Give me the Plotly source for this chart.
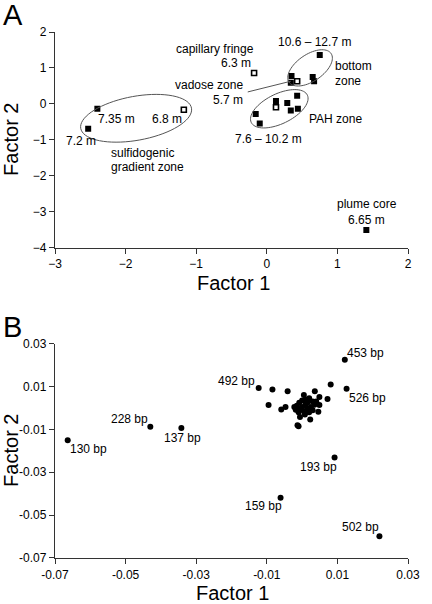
import math
import plotly.graph_objects as go

# ---------------- Panel A data ----------------
a_filled_x = [-2.53, -2.40, 0.75, 0.35, 0.34, 0.65, 0.67, -0.157, -0.10, 0.13, 0.29, 0.34, 0.43, 0.44, 1.41]
a_filled_y = [-0.69, -0.13, 1.36, 0.78, 0.59, 0.75, 0.63, -0.28, -0.54, 0.08, 0.03, -0.18, 0.23, -0.13, -3.50]
a_open_x = [-1.175, -0.18, 0.43, 0.13]
a_open_y = [-0.16, 0.86, 0.63, -0.09]

# ---------------- Panel B data ----------------
b_label_names = ["130 bp", "228 bp", "137 bp", "492 bp", "453 bp", "526 bp", "193 bp", "159 bp", "502 bp"]
b_label_x = [-0.0664, -0.0430, -0.0342, -0.0123, 0.0121, 0.0126, 0.0092, -0.0061, 0.0219]
b_label_y = [-0.0150, -0.0088, -0.0093, 0.0093, 0.0225, 0.0090, -0.0231, -0.0419, -0.0598]
b_other_x = [-0.0084, -0.0041, 0.0081, 0.0036, 0.0072, 0.0049, -0.0095, -0.0059, -0.0047, -0.0022,
             0.0005, 0.0049, 0.0046, 0.0023, -0.0006, -0.0010, -0.0013,
             -0.0015, -0.0008, 0.0000, 0.0010, 0.0020, 0.0030, 0.0035, 0.0025, 0.0015, 0.0005,
             -0.0005, 0.0010, 0.0020, 0.0030, -0.0010, 0.0000, 0.0015, 0.0040, 0.0008, -0.0018]
b_other_y = [0.0086, 0.0078, 0.0110, 0.0078, 0.0042, 0.0051, 0.0014, -0.0007, 0.0005, 0.0005,
             0.0061, 0.0014, -0.0017, -0.0054, -0.0042, -0.0085, -0.0080,
             0.0010, 0.0025, 0.0035, 0.0040, 0.0045, 0.0030, 0.0015, 0.0005, -0.0005, -0.0015,
             -0.0005, 0.0015, -0.0020, -0.0010, -0.0020, 0.0005, 0.0025, 0.0030, -0.0030, -0.0008]

FONT = "Liberation Sans, Arial, sans-serif"
W, H = 432, 604
ML, MR, MT, MB = 55, 13, 32, 46
PW, PH = W - ML - MR, H - MT - MB
A_DOM = [0.5896, 1.0]
B_DOM = [0.0, 0.4074]
A_XR, A_YR = [-3, 2], [-4, 2]
B_XR, B_YR = [-0.07, 0.03], [-0.07, 0.03]

sxA = PW / (A_XR[1] - A_XR[0])
syA = PH * (A_DOM[1] - A_DOM[0]) / (A_YR[1] - A_YR[0])


def ellipse_path(cx, cy, a_px, b_px, ang_deg, sx, sy, n=72):
    th = math.radians(ang_deg)
    pts = []
    for i in range(n):
        t = 2 * math.pi * i / n
        dx = a_px * math.cos(t) * math.cos(th) - b_px * math.sin(t) * math.sin(th)
        dy = a_px * math.cos(t) * math.sin(th) + b_px * math.sin(t) * math.cos(th)
        pts.append((cx + dx / sx, cy + dy / sy))
    return "M " + " L ".join(f"{x:.5f},{y:.5f}" for x, y in pts) + " Z"


fig = go.Figure()

fig.add_trace(go.Scatter(x=a_filled_x, y=a_filled_y, mode="markers", xaxis="x", yaxis="y",
                         marker=dict(symbol="square", size=6, color="black",
                                     line=dict(width=0)), showlegend=False))
fig.add_trace(go.Scatter(x=a_open_x, y=a_open_y, mode="markers", xaxis="x", yaxis="y",
                         marker=dict(symbol="square", size=5, color="white",
                                     line=dict(width=1.6, color="black")), showlegend=False))
fig.add_trace(go.Scatter(x=b_other_x + b_label_x, y=b_other_y + b_label_y, mode="markers",
                         xaxis="x2", yaxis="y2",
                         marker=dict(symbol="circle", size=6, color="black", line=dict(width=0)),
                         showlegend=False))

shapes = []
for (cx, cy, a, b, ang) in [(-1.851, -0.398, 58, 22, 10), (0.613, 1.003, 26, 13.5, 33),
                            (0.177, -0.134, 32, 15, 25)]:
    shapes.append(dict(type="path", xref="x", yref="y",
                       path=ellipse_path(cx, cy, a, b, ang, sxA, syA),
                       line=dict(color="#555555", width=1)))
shapes.append(dict(type="line", xref="x", yref="y", x0=-0.27, y0=0.334, x1=0.34, y1=0.632,
                   line=dict(color="#555555", width=1)))

anns = []


def txt(x, y, s, xa="center", xref="x", yref="y", size=12):
    anns.append(dict(x=x, y=y, text=s, xref=xref, yref=yref, showarrow=False, xanchor=xa,
                     yanchor="middle", borderpad=0,
                     font=dict(size=size, color="black", family=FONT)))


# Panel A labels
txt(-0.729, 1.53, "capillary fringe")
txt(-0.206, 1.13, "6.3 m", "right")
txt(0.675, 1.71, "10.6 – 12.7 m")
txt(0.954, 1.05, "bottom", "left")
txt(0.954, 0.64, "zone", "left")
txt(-0.316, 0.54, "vadose zone", "right")
txt(-0.316, 0.122, "5.7 m", "right")
txt(-2.129, -0.406, "7.35 m")
txt(-1.408, -0.406, "6.8 m")
txt(-2.633, -1.04, "7.2 m")
txt(-2.216, -1.372, "sulfidogenic", "left")
txt(-2.216, -1.762, "gradient zone", "left")
txt(0.977, -0.426, "PAH zone")
txt(0.028, -0.963, "7.6 – 10.2 m")
txt(1.418, -2.772, "plume core")
txt(1.418, -3.217, "6.65 m")

# Panel B labels
b_lab_pos = {
    "130 bp": (-0.06616, -0.01923, "left"),
    "228 bp": (-0.0435, -0.00526, "right"),
    "137 bp": (-0.0339, -0.01397, "center"),
    "492 bp": (-0.01293, 0.01277, "right"),
    "453 bp": (0.01247, 0.02562, "left"),
    "526 bp": (0.01293, 0.00466, "left"),
    "193 bp": (0.00460, -0.02747, "center"),
    "159 bp": (-0.01082, -0.04564, "center"),
    "502 bp": (0.01649, -0.05542, "center"),
}
for name in b_label_names:
    x, y, xa = b_lab_pos[name]
    txt(x, y, name, xa, "x2", "y2")


# Panel letters and axis titles (page pixel -> paper coords)
def px2paper_x(px):
    return (px - ML) / PW


def py2paper_y(py):
    return (H - MB - py) / PH


txt(px2paper_x(11.5), py2paper_y(14.7), "A", "center", "paper", "paper", 29)
txt(px2paper_x(11), py2paper_y(326.7), "B", "center", "paper", "paper", 29)
txt(px2paper_x(239), py2paper_y(283), "Factor 1", "center", "paper", "paper", 20)
txt(px2paper_x(238), py2paper_y(592.5), "Factor 1", "center", "paper", "paper", 20)
for yc in (139.5, 450.5):
    anns.append(dict(x=px2paper_x(9), y=py2paper_y(yc), text="Factor 2", xref="paper",
                     yref="paper", showarrow=False, textangle=-90, xanchor="center",
                     yanchor="middle", borderpad=0,
                     font=dict(size=20, color="black", family=FONT)))

axis_style = dict(showline=True, linecolor="#333333", linewidth=1.3, ticks="outside",
                  ticklen=5, tickwidth=1.3, tickcolor="#333333", showgrid=False,
                  zeroline=False, tickfont=dict(size=12, color="black", family=FONT),
                  fixedrange=True)

b_ticks = [-0.07, -0.05, -0.03, -0.01, 0.01, 0.03]
b_tick_text = ["-0.07", "-0.05", "-0.03", "-0.01", "0.01", "0.03"]

fig.update_layout(
    width=W, height=H,
    margin=dict(l=ML, r=MR, t=MT, b=MB),
    paper_bgcolor="white", plot_bgcolor="white",
    font=dict(family=FONT, color="black"),
    xaxis=dict(domain=[0, 1], range=A_XR, anchor="y", tickvals=[-3, -2, -1, 0, 1, 2], **axis_style),
    yaxis=dict(domain=A_DOM, range=A_YR, anchor="x", tickvals=[-4, -3, -2, -1, 0, 1, 2], **axis_style),
    xaxis2=dict(domain=[0, 1], range=B_XR, anchor="y2", tickvals=b_ticks, ticktext=b_tick_text, **axis_style),
    yaxis2=dict(domain=B_DOM, range=B_YR, anchor="x2", tickvals=b_ticks, ticktext=b_tick_text, **axis_style),
    shapes=shapes,
    annotations=anns,
)

fig.write_html("out.html", config={"displayModeBar": False},
               post_script="document.body.style.margin='0px';document.body.style.overflow='hidden';")
